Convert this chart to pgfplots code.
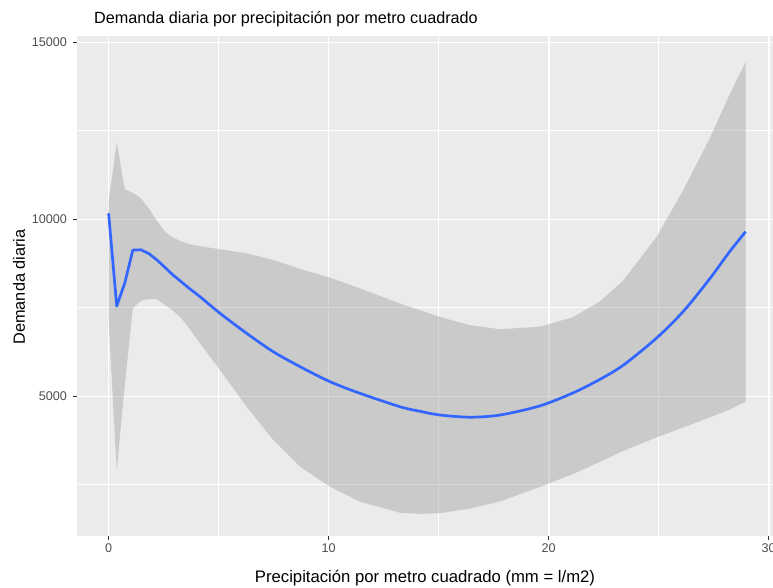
\documentclass[border=0pt]{standalone}
\usepackage{pgfplots}
\pgfplotsset{compat=1.18}
\usepackage{pgfplotstable}
\usepgfplotslibrary{fillbetween}
\usepackage{fontspec}
\setmainfont{Liberation Sans}
\definecolor{panelbg}{HTML}{EBEBEB}
\definecolor{smoothblue}{HTML}{3366FF}
\definecolor{ticktext}{HTML}{4D4D4D}
\definecolor{tickcol}{HTML}{333333}

\pgfplotstableread{
x      mean   lower  upper
0.000  10150  7100   10500
0.366  7550   2910   12184
0.732  8200   5300   10850
1.097  9130   7480   10750
1.463  9140   7700   10600
1.829  9030   7750   10300
2.195  8850   7740   9950
2.561  8640   7580   9650
2.926  8425   7420   9480
3.292  8240   7220   9380
3.658  8050   6920   9300
4.15   7814   6500   9240
5.06   7345   5743   9153
6.27   6780   4706   9040
7.48   6260   3766   8851
8.70   5837   3012   8600
10.06  5413   2446   8350
11.42  5085   2023   8051
13.24  4706   1710   7620
14.20  4570   1680   7420
15.06  4472   1700   7240
16.42  4410   1830   7010
17.79  4472   2030   6895
19.60  4730   2440   6966
21.12  5100   2810   7240
22.33  5480   3150   7680
23.39  5880   3460   8270
24.91  6650   3840   9509
26.12  7400   4120   10828
27.33  8330   4410   12300
28.24  9100   4630   13550
28.95  9651   4848   14445
}\smoothdata

\begin{document}
\begin{tikzpicture}
\begin{axis}[
  at={(0pt,0pt)}, anchor=south west,
  scale only axis,
  width=696pt, height=500pt,
  xmin=-1.44, xmax=30.195,
  ymin=1054, ymax=15179,
  axis background/.style={fill=panelbg},
  axis line style={draw=none},
  xtick={0,10,20,30},
  minor xtick={5,15,25},
  ytick={5000,10000,15000},
  minor ytick={2500,7500,12500},
  grid=both,
  major grid style={white, line width=1.6pt},
  minor grid style={white, line width=0.8pt},
  tick align=outside,
  xtick pos=bottom, ytick pos=left,
  major tick length=4pt,
  minor tick length=0pt,
  major tick style={tickcol, line width=1.1pt},
  scaled y ticks=false,
  scaled x ticks=false,
  unbounded coords=jump,
  /pgf/number format/assume math mode=true,
  /pgf/number format/1000 sep={},
  ticklabel style={font=\fontsize{12.6}{14}\selectfont, text=ticktext},
  yticklabel style={inner sep=0pt, xshift=-6pt},
  xticklabel style={inner sep=0pt, yshift=-4pt},
]
\addplot[draw=none, name path=U] table[x=x, y=upper] {\smoothdata};
\addplot[draw=none, name path=L] table[x=x, y=lower] {\smoothdata};
\addplot[fill=black!40, fill opacity=0.4, draw=none] fill between[of=U and L];
\addplot[smoothblue, line width=2.7pt, line join=round, line cap=round,
  restrict x to domain=-1:3.66] table[x=x, y=mean] {\smoothdata};
\addplot[smoothblue, line width=2.7pt, line join=round, smooth, tension=0.5,
  restrict x to domain=3.65:30] table[x=x, y=mean] {\smoothdata};
\end{axis}
\node[anchor=base west, inner sep=0pt, font=\fontsize{16.2}{18}\selectfont] at (17pt,512pt) {Demanda diaria por precipitación por metro cuadrado};
\node[anchor=base, inner sep=0pt, font=\fontsize{16.7}{18}\selectfont] at (348pt,-47pt) {Precipitación por metro cuadrado (mm = l/m2)};
\node[anchor=base, rotate=90, inner sep=0pt, font=\fontsize{16.3}{18}\selectfont] at (-52pt,249pt) {Demanda diaria};
\pgfresetboundingbox
\useasboundingbox (-77pt,-52pt) rectangle (696pt,536pt);
\end{tikzpicture}
\end{document}
